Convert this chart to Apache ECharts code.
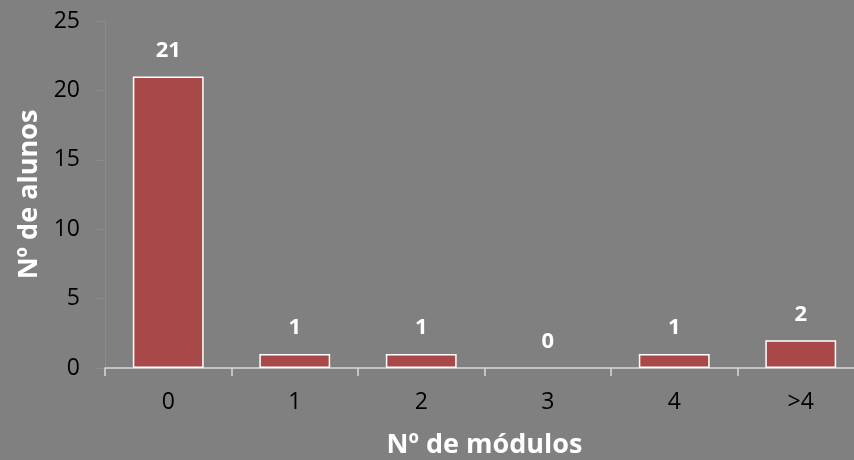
<!DOCTYPE html>
<html><head><meta charset="utf-8">
<script src="https://cdn.jsdelivr.net/npm/echarts@6/dist/echarts.min.js"></script>
<style>html,body{margin:0;padding:0;background:#808080}#c{width:854px;height:460px}</style>
</head><body><div id="c"></div>
<script>
const categories = ['0', '1', '2', '3', '4', '>4'];
const alunos = [21, 1, 1, 0, 1, 2];
const yTicks = { min: 0, max: 25, interval: 5 };
const xTitle = 'Nº de módulos';
const yTitle = 'Nº de alunos';

const chart = echarts.init(document.getElementById('c'), null, { renderer: 'canvas' });
chart.setOption({
  backgroundColor: '#808080',
  animation: false,
  grid: { left: 105, top: 21, bottom: 92, width: 759, outerBoundsMode: 'none', containLabel: false },
  xAxis: {
    type: 'category', data: categories,
    axisLine: { lineStyle: { color: '#d9d9d9', width: 1.5 } },
    axisTick: { show: true, length: 8, lineStyle: { color: '#d9d9d9', width: 1.5 } },
    axisLabel: { color: '#000', fontSize: 23, fontFamily: 'Open Sans', margin: 23 },
    name: xTitle, nameLocation: 'middle', nameGap: 64,
    nameTextStyle: { color: '#fff', fontSize: 27, fontWeight: 'bold', fontFamily: 'Open Sans' }
  },
  yAxis: {
    type: 'value', min: yTicks.min, max: yTicks.max, interval: yTicks.interval,
    splitLine: { show: false },
    axisLine: { show: true, lineStyle: { color: '#8c8c8c', width: 1 } },
    axisTick: { show: true, length: 8, lineStyle: { color: '#8c8c8c' } },
    axisLabel: { color: '#000', fontSize: 23, fontFamily: 'Open Sans', margin: 25 },
    name: yTitle, nameLocation: 'middle', nameGap: 62, nameRotate: 90,
    nameTextStyle: { color: '#fff', fontSize: 27, fontWeight: 'bold', fontFamily: 'Open Sans' }
  },
  series: [{
    type: 'bar',
    data: alunos.map(v => v === 0 ? { value: v, itemStyle: { borderWidth: 0 } } : v),
    barCategoryGap: '44%',
    itemStyle: { color: '#A84848', borderColor: '#ffffff', borderWidth: 1.5 },
    label: { show: true, position: 'top', distance: 15, color: '#fff', fontWeight: 'bold', fontSize: 22, fontFamily: 'Open Sans' }
  }]
});
</script></body></html>
